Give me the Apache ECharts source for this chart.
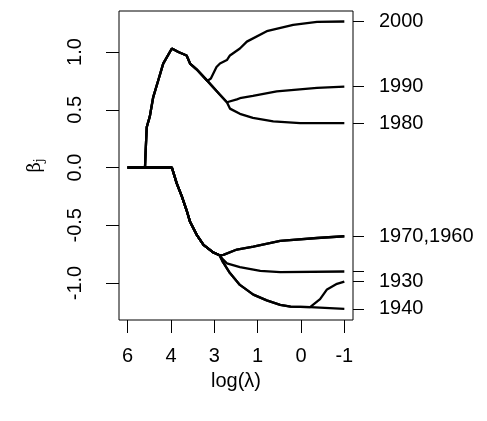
<!DOCTYPE html>
<html>
<head>
<meta charset="utf-8">
<script src="https://cdn.jsdelivr.net/npm/echarts@6/dist/echarts.min.js"></script>
<style>
  html, body { margin: 0; padding: 0; background: #fff; }
  #chart { width: 487px; height: 421px; }
</style>
</head>
<body>
<div id="chart"></div>
<script>
// x is the tick position along the axis (0..5), labelled with log(lambda)
var xTicks = [0, 1, 2, 3, 4, 5];
var xTickLabels = ['6', '4', '3', '1', '0', '-1'];
var yTicks = [-1, -0.5, 0, 0.5, 1];

// shared trunks
var upperTrunk = [[0, 0], [0.40, 0], [0.41, 0.10], [0.44, 0.35], [0.51, 0.44], [0.59, 0.61],
    [0.71, 0.76], [0.82, 0.90], [1.02, 1.03], [1.17, 1.00], [1.36, 0.97], [1.44, 0.90],
    [1.59, 0.85], [1.84, 0.75]];
var upperTrunk2 = [[2.13, 0.63], [2.29, 0.565]];
var lowerTrunk = [[0, 0], [1.02, 0], [1.13, -0.135], [1.25, -0.25], [1.36, -0.37], [1.44, -0.47],
    [1.59, -0.58], [1.75, -0.67], [1.98, -0.736], [2.12, -0.76]];

// branches
var b2000 = [[1.92, 0.77], [2.05, 0.87], [2.13, 0.90], [2.29, 0.93], [2.36, 0.97], [2.59, 1.03],
    [2.75, 1.09], [3.21, 1.18], [3.82, 1.235], [4.37, 1.26], [5.0, 1.264]];
var b1990 = [[2.52, 0.59], [2.59, 0.60], [2.89, 0.62], [3.44, 0.66], [4.37, 0.69], [5.0, 0.70]];
var b1980 = [[2.36, 0.51], [2.59, 0.465], [2.89, 0.43], [3.36, 0.40], [3.98, 0.385], [5.0, 0.384]];
var b1970 = [[2.21, -0.756], [2.52, -0.71], [2.90, -0.684], [3.52, -0.635], [4.37, -0.61], [5.0, -0.595]];
var b1950 = [[2.21, -0.80], [2.29, -0.83], [2.59, -0.862], [3.06, -0.894], [3.52, -0.906], [5.0, -0.90]];
var b1940 = [[2.20, -0.82], [2.36, -0.914], [2.59, -1.016], [2.90, -1.10], [3.21, -1.15],
    [3.52, -1.189], [3.76, -1.205], [4.21, -1.209], [5.0, -1.223]];
var b1930 = [[4.25, -1.203], [4.44, -1.14], [4.60, -1.055], [4.83, -1.007], [5.0, -0.987]];

var lines = {
    '2000': upperTrunk.concat(b2000),
    '1990': upperTrunk.concat(upperTrunk2, b1990),
    '1980': upperTrunk.concat(upperTrunk2, b1980),
    '1970': lowerTrunk.concat(b1970),
    '1960': lowerTrunk.concat(b1970),
    '1950': lowerTrunk.concat(b1950),
    '1940': lowerTrunk.concat(b1940),
    '1930': lowerTrunk.concat(b1940.slice(0, 8), b1930)
};

// right-hand labels at the end of each path
var endNames = ['2000', '1990', '1980', '1970', '1950', '1930', '1940'];
var endLabels = ['2000', '1990', '1980', '1970,1960', '', '1930', '1940'];
var endValues = endNames.map(function (n) { var d = lines[n]; return d[d.length - 1][1]; });

var font = 'Liberation Sans, Arial, sans-serif';
var fs = 20;

var series = Object.keys(lines).map(function (name) {
    return {
        name: name,
        type: 'line',
        data: lines[name],
        showSymbol: false,
        silent: true,
        lineStyle: { color: '#000', width: 2.3 }
    };
});

var option = {
    animation: false,
    grid: {
        left: 119, right: 134, top: 11, bottom: 101,
        show: true, borderColor: '#000', borderWidth: 1
    },
    xAxis: {
        type: 'value',
        min: -0.2,
        max: 5.2,
        name: 'log(λ)',
        nameLocation: 'middle',
        nameGap: 51,
        nameTextStyle: { color: '#000', fontSize: fs, fontFamily: font },
        axisLine: { show: false, onZero: false },
        splitLine: { show: false },
        axisTick: { show: true, length: 13, customValues: xTicks, lineStyle: { color: '#000' } },
        axisLabel: {
            customValues: xTicks, margin: 26, color: '#000', fontSize: fs, fontFamily: font,
            formatter: function (v) { return xTickLabels[Math.round(v)]; }
        }
    },
    yAxis: [{
        type: 'value',
        min: -1.32,
        max: 1.355,
        position: 'left',
        name: '{b|β}{s|j}',
        nameLocation: 'middle',
        nameGap: 73,
        nameRotate: 90,
        nameTextStyle: {
            rich: {
                b: { fontSize: 18, fontFamily: 'DejaVu Serif, serif', color: '#000' },
                s: { fontSize: 12, fontFamily: 'DejaVu Serif, serif', color: '#000', padding: [10, 0, 0, 0] }
            }
        },
        axisLine: { show: false, onZero: false },
        splitLine: { show: false },
        axisTick: { show: true, length: 13, customValues: yTicks, lineStyle: { color: '#000' } },
        axisLabel: {
            customValues: yTicks, rotate: 90, margin: 34, color: '#000', fontSize: fs, fontFamily: font,
            formatter: function (v) { return v.toFixed(1); }
        }
    }, {
        type: 'value',
        min: -1.32,
        max: 1.355,
        position: 'right',
        axisLine: { show: false, onZero: false },
        splitLine: { show: false },
        axisTick: { show: true, length: 11, customValues: endValues, lineStyle: { color: '#000' } },
        axisLabel: {
            customValues: endValues.filter(function (v, i) { return endLabels[i] !== ''; }),
            margin: 26, color: '#000', fontSize: fs, fontFamily: font,
            formatter: function (v) {
                var i = endValues.indexOf(v);
                return i >= 0 ? endLabels[i] : '';
            }
        }
    }],
    series: series
};

var chart = echarts.init(document.getElementById('chart'));
chart.setOption(option);
</script>
</body>
</html>
